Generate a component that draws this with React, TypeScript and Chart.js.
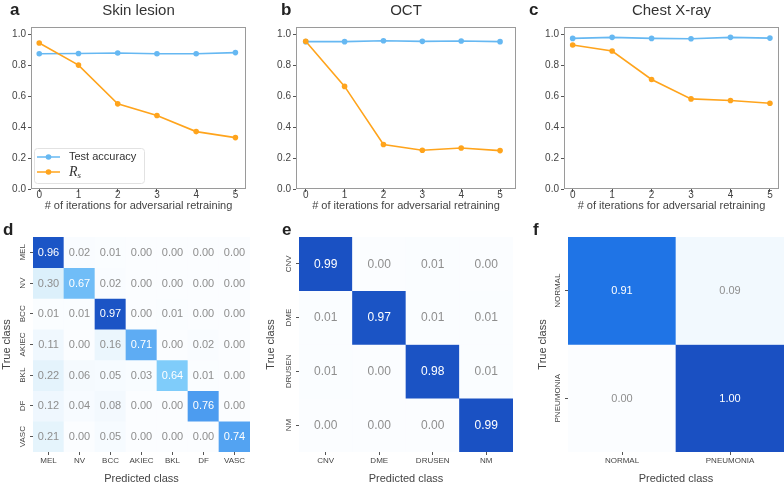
import React, { useEffect, useRef } from 'react';
import { Chart, registerables } from 'chart.js';
Chart.register(...registerables);

const FONT = '"Liberation Sans", Arial, Helvetica, sans-serif';
Chart.defaults.font.family = FONT;
Chart.defaults.color = '#444';

// ---------- data ----------
const iterations = [0, 1, 2, 3, 4, 5];
const yTickValues = [0, 0.2, 0.4, 0.6, 0.8, 1.0];

const skinTestAcc = [0.877, 0.878, 0.881, 0.877, 0.877, 0.884];
const skinRs = [0.946, 0.803, 0.552, 0.476, 0.372, 0.333];
const octTestAcc = [0.955, 0.955, 0.961, 0.957, 0.959, 0.955];
const octRs = [0.957, 0.665, 0.288, 0.251, 0.266, 0.249];
const chestTestAcc = [0.976, 0.983, 0.976, 0.974, 0.983, 0.978];
const chestRs = [0.933, 0.894, 0.71, 0.584, 0.574, 0.556];

const skinClasses = ['MEL', 'NV', 'BCC', 'AKIEC', 'BKL', 'DF', 'VASC'];
const skinMatrix = [
  [0.96, 0.02, 0.01, 0.0, 0.0, 0.0, 0.0],
  [0.3, 0.67, 0.02, 0.0, 0.0, 0.0, 0.0],
  [0.01, 0.01, 0.97, 0.0, 0.01, 0.0, 0.0],
  [0.11, 0.0, 0.16, 0.71, 0.0, 0.02, 0.0],
  [0.22, 0.06, 0.05, 0.03, 0.64, 0.01, 0.0],
  [0.12, 0.04, 0.08, 0.0, 0.0, 0.76, 0.0],
  [0.21, 0.0, 0.05, 0.0, 0.0, 0.0, 0.74],
];
const octClasses = ['CNV', 'DME', 'DRUSEN', 'NM'];
const octMatrix = [
  [0.99, 0.0, 0.01, 0.0],
  [0.01, 0.97, 0.01, 0.01],
  [0.01, 0.0, 0.98, 0.01],
  [0.0, 0.0, 0.0, 0.99],
];
const chestClasses = ['NORMAL', 'PNEUMONIA'];
const chestMatrix = [
  [0.91, 0.09],
  [0.0, 1.0],
];

// ---------- styles ----------
const BLUE = '#66b8f2';
const ORANGE = '#ffa41c';
const cmapStops: [number, number[]][] = [
  [0, [251, 253, 255]],
  [0.1, [241, 248, 254]],
  [0.3, [220, 240, 251]],
  [0.64, [127, 204, 250]],
  [0.7, [98, 175, 244]],
  [0.78, [68, 150, 239]],
  [0.91, [31, 116, 230]],
  [0.96, [27, 85, 198]],
  [1, [26, 80, 194]],
];
function cmap(v: number): string {
  for (let i = 1; i < cmapStops.length; i++) {
    const [v1, c1] = cmapStops[i];
    const [v0, c0] = cmapStops[i - 1];
    if (v <= v1) {
      const t = (v - v0) / (v1 - v0 || 1);
      const c = c0.map((a, k) => Math.round(a + (c1[k] - a) * t));
      return `rgb(${c[0]},${c[1]},${c[2]})`;
    }
  }
  const c = cmapStops[cmapStops.length - 1][1];
  return `rgb(${c[0]},${c[1]},${c[2]})`;
}

// ---------- plugins ----------
const framePlugin = {
  id: 'frame',
  beforeDatasetsDraw(chart: any) {
    const { ctx, chartArea: ca } = chart;
    ctx.save();
    ctx.strokeStyle = '#9a9a9a';
    ctx.lineWidth = 1;
    ctx.strokeRect(Math.round(ca.left) + 0.5, Math.round(ca.top) + 0.5, Math.round(ca.right - ca.left) - 1, Math.round(ca.bottom - ca.top) - 1);
    ctx.restore();
  },
};

function decorPlugin(letter: string, lx: number, ly: number, title?: string, ty?: number) {
  return {
    id: 'decor',
    afterDraw(chart: any) {
      const { ctx, chartArea: ca } = chart;
      ctx.save();
      ctx.fillStyle = '#222';
      ctx.font = `bold 17px ${FONT}`;
      ctx.textAlign = 'left';
      ctx.textBaseline = 'alphabetic';
      ctx.fillText(letter, lx, ly);
      if (title) {
        ctx.fillStyle = '#333';
        ctx.font = `15px ${FONT}`;
        ctx.textAlign = 'center';
        ctx.fillText(title, (ca.left + ca.right) / 2, ty);
      }
      ctx.restore();
    },
  };
}

const legendPlugin = {
  id: 'insetLegend',
  afterDatasetsDraw(chart: any) {
    const { ctx, chartArea: ca } = chart;
    const bw = 110, bh = 35;
    const bx = ca.left + 3, by = ca.bottom - 6 - bh;
    ctx.save();
    ctx.beginPath();
    (ctx as any).roundRect(bx + 0.5, by + 0.5, bw, bh, 3);
    ctx.fillStyle = 'rgba(255,255,255,0.85)';
    ctx.fill();
    ctx.strokeStyle = '#e2e2e2';
    ctx.lineWidth = 1;
    ctx.stroke();
    chart.data.datasets.forEach((ds: any, i: number) => {
      const cy = by + 9 + i * 15;
      ctx.strokeStyle = ds.borderColor;
      ctx.lineWidth = 1.5;
      ctx.beginPath();
      ctx.moveTo(bx + 3, cy);
      ctx.lineTo(bx + 26, cy);
      ctx.stroke();
      ctx.fillStyle = ds.borderColor;
      ctx.beginPath();
      ctx.arc(bx + 14.5, cy, 2.8, 0, Math.PI * 2);
      ctx.fill();
      ctx.fillStyle = '#333';
      ctx.textBaseline = 'middle';
      ctx.textAlign = 'left';
      const label: string = ds.label;
      if (label.includes('_')) {
        const [base, sub] = label.split('_');
        ctx.font = `italic 14px "Liberation Serif", "DejaVu Serif", serif`;
        ctx.fillText(base, bx + 35, cy);
        const w = ctx.measureText(base).width;
        ctx.font = `italic 9px "Liberation Serif", "DejaVu Serif", serif`;
        ctx.fillText(sub, bx + 35 + w, cy + 4);
      } else {
        ctx.font = `11px ${FONT}`;
        ctx.fillText(label, bx + 35, cy);
      }
    });
    ctx.restore();
  },
};

function cellPlugin(matrix: number[][], valueSize: number, tickSize: number, labelOffset: number) {
  return {
    id: 'cells',
    afterDatasetsDraw(chart: any) {
      const ctx = chart.ctx;
      ctx.save();
      ctx.font = `${valueSize}px ${FONT}`;
      ctx.textAlign = 'center';
      ctx.textBaseline = 'middle';
      chart.data.datasets.forEach((ds: any, i: number) => {
        const meta = chart.getDatasetMeta(i);
        meta.data.forEach((bar: any, j: number) => {
          const v = matrix[i][j];
          const p = bar.getProps(['x', 'y', 'base'], true);
          ctx.fillStyle = v > 0.5 ? '#ffffff' : '#8e8e8e';
          ctx.fillText(v.toFixed(2), p.x, (p.y + p.base) / 2 + 0.5);
        });
      });
      const ys = chart.scales.yl;
      ctx.font = `${tickSize}px ${FONT}`;
      ctx.fillStyle = '#444';
      ys.getLabels().forEach((lab: string, k: number) => {
        const py = ys.getPixelForTick(k);
        ctx.save();
        ctx.translate(ys.right - labelOffset, py);
        ctx.rotate(-Math.PI / 2);
        ctx.fillText(lab, 0, 0);
        ctx.restore();
      });
      ctx.restore();
    },
  };
}

// ---------- config builders ----------
function lineConfig(o: {
  acc: number[]; rs: number[]; xMin: number; xMax: number; padRight: number; yWidth: number;
  letter: string; lx: number; title: string; legend: boolean;
}) {
  const tickGrid = { display: true, drawOnChartArea: false, drawTicks: true, tickLength: 3, color: '#555', lineWidth: 1 };
  return {
    type: 'line',
    data: {
      datasets: [
        {
          label: 'Test accuracy',
          data: iterations.map((x, i) => ({ x, y: o.acc[i] })),
          borderColor: BLUE, backgroundColor: BLUE, pointBackgroundColor: BLUE,
          borderWidth: 1.6, pointRadius: 2.8, pointBorderWidth: 0, tension: 0, order: 1,
        },
        {
          label: 'R_s',
          data: iterations.map((x, i) => ({ x, y: o.rs[i] })),
          borderColor: ORANGE, backgroundColor: ORANGE, pointBackgroundColor: ORANGE,
          borderWidth: 1.6, pointRadius: 2.8, pointBorderWidth: 0, tension: 0, order: 0,
        },
      ],
    },
    options: {
      responsive: false,
      animation: false,
      devicePixelRatio: 1,
      layout: { padding: { left: 0, right: o.padRight, top: 27, bottom: 0 } },
      plugins: { legend: { display: false }, tooltip: { enabled: false }, title: { display: false } },
      scales: {
        x: {
          type: 'linear', min: o.xMin, max: o.xMax,
          afterBuildTicks: (s: any) => { s.ticks = iterations.map((v) => ({ value: v })); },
          afterFit: (s: any) => { s.height = 39; },
          ticks: { font: { size: 10 }, color: '#444', padding: -3, maxRotation: 0, autoSkip: false, callback: (v: any) => String(v) },
          grid: tickGrid,
          border: { display: false },
          title: { display: true, text: '# of iterations for adversarial retraining', font: { size: 11 }, color: '#444', padding: { top: 0, bottom: 15 } },
        },
        y: {
          type: 'linear', min: 0, max: 1.05,
          afterBuildTicks: (s: any) => { s.ticks = yTickValues.map((v) => ({ value: v })); },
          afterFit: (s: any) => { s.width = o.yWidth; },
          ticks: { font: { size: 10 }, color: '#444', padding: 2, callback: (v: any) => Number(v).toFixed(1) },
          grid: tickGrid,
          border: { display: false },
        },
      },
    },
    plugins: [framePlugin, decorPlugin(o.letter, o.lx, 15, o.title, 15), ...(o.legend ? [legendPlugin] : [])],
  };
}

function matrixConfig(o: {
  classes: string[]; matrix: number[][]; padRight: number; yWidth: number; titlePad: number;
  valueSize: number; letter: string; lx: number;
}) {
  const n = o.classes.length;
  return {
    type: 'bar',
    data: {
      labels: o.classes,
      datasets: o.matrix.map((row, i) => ({
        label: o.classes[i],
        data: row.map(() => 1),
        backgroundColor: row.map((v) => cmap(v)),
        borderWidth: 0,
        categoryPercentage: 1,
        barPercentage: 1,
        xAxisID: 'x',
        yAxisID: 'y',
      })),
    },
    options: {
      responsive: false,
      animation: false,
      devicePixelRatio: 1,
      layout: { padding: { left: 0, right: o.padRight, top: 22, bottom: 0 } },
      plugins: { legend: { display: false }, tooltip: { enabled: false } },
      scales: {
        x: {
          type: 'category', stacked: true, offset: true,
          afterFit: (s: any) => { s.height = 34; },
          ticks: { font: { size: 8 }, color: '#444', padding: 1, maxRotation: 0, autoSkip: false },
          grid: { display: true, offset: false, drawOnChartArea: false, drawTicks: true, tickLength: 3, color: '#555' },
          border: { display: false },
          title: { display: true, text: 'Predicted class', font: { size: 11 }, color: '#444', padding: { top: 0, bottom: 0 } },
        },
        y: { type: 'linear', stacked: true, min: 0, max: n, reverse: true, display: false },
        yl: {
          type: 'category', labels: o.classes, position: 'left', offset: true,
          afterFit: (s: any) => { s.width = o.yWidth; },
          ticks: { display: false },
          grid: { display: true, offset: false, drawOnChartArea: false, drawTicks: true, tickLength: 3, color: '#555' },
          border: { display: false },
          title: { display: true, text: 'True class', font: { size: 11 }, color: '#444', padding: { top: o.titlePad, bottom: 0 } },
        },
      },
    },
    plugins: [cellPlugin(o.matrix, o.valueSize, 8, 10), decorPlugin(o.letter, o.lx, 20)],
  };
}

// ---------- components ----------
function Panel({ config, left, top, width, height }: { config: any; left: number; top: number; width: number; height: number }) {
  const ref = useRef<HTMLCanvasElement | null>(null);
  useEffect(() => {
    if (!ref.current) return;
    const chart = new Chart(ref.current, config);
    return () => chart.destroy();
  }, [config]);
  return (
    <div style={{ position: 'absolute', left, top, width, height }}>
      <canvas ref={ref} width={width} height={height} style={{ width, height, display: 'block' }} />
    </div>
  );
}

const configs = {
  a: lineConfig({ acc: skinTestAcc, rs: skinRs, xMin: -0.21, xMax: 5.27, padRight: 14, yWidth: 31, letter: 'a', lx: 10, title: 'Skin lesion', legend: true }),
  b: lineConfig({ acc: octTestAcc, rs: octRs, xMin: -0.25, xMax: 5.41, padRight: 2, yWidth: 36, letter: 'b', lx: 21, title: 'OCT', legend: false }),
  c: lineConfig({ acc: chestTestAcc, rs: chestRs, xMin: -0.22, xMax: 5.23, padRight: 5, yWidth: 44, letter: 'c', lx: 9, title: 'Chest X-ray', legend: false }),
  d: matrixConfig({ classes: skinClasses, matrix: skinMatrix, padRight: 10, yWidth: 33, titlePad: 0, valueSize: 11, letter: 'd', lx: 3 }),
  e: matrixConfig({ classes: octClasses, matrix: octMatrix, padRight: 7, yWidth: 39, titlePad: 4, valueSize: 12, letter: 'e', lx: 22 }),
  f: matrixConfig({ classes: chestClasses, matrix: chestMatrix, padRight: 0, yWidth: 48, titlePad: 16, valueSize: 11, letter: 'f', lx: 13 }),
};

export default function App() {
  return (
    <div style={{ position: 'absolute', left: 0, top: 0, width: 784, height: 486, background: '#fff', overflow: 'hidden' }}>
      <Panel config={configs.a} left={0} top={0} width={260} height={228} />
      <Panel config={configs.b} left={260} top={0} width={260} height={228} />
      <Panel config={configs.c} left={520} top={0} width={264} height={228} />
      <Panel config={configs.d} left={0} top={215} width={260} height={271} />
      <Panel config={configs.e} left={260} top={215} width={260} height={271} />
      <Panel config={configs.f} left={520} top={215} width={264} height={271} />
    </div>
  );
}
